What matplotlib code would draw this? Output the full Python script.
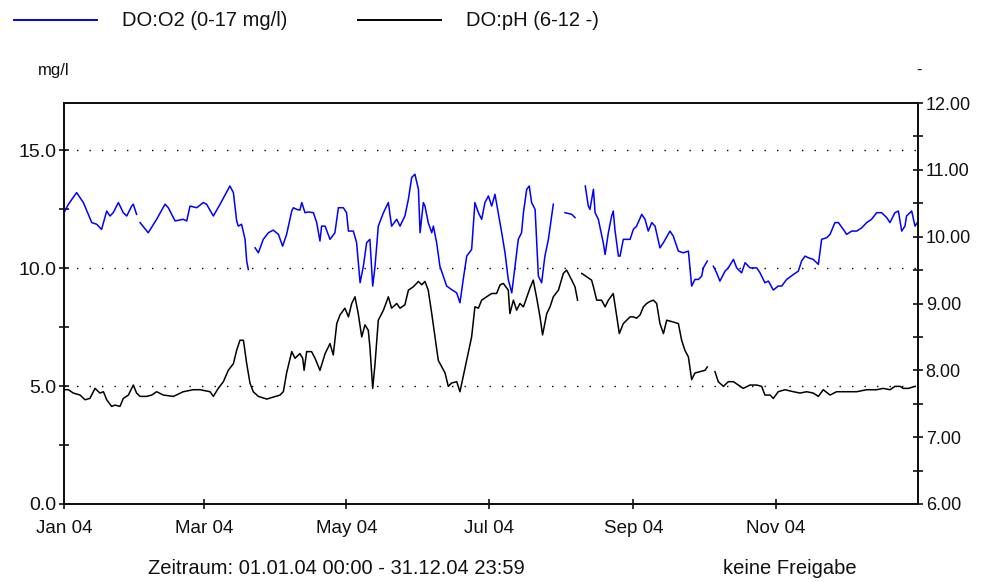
import numpy as np
import matplotlib
matplotlib.use("Agg")
import matplotlib.pyplot as plt
import matplotlib.dates as mdates
from matplotlib.ticker import FixedLocator
from matplotlib.lines import Line2D
import datetime as dt

plt.rcParams['font.family'] = ['Liberation Sans', 'DejaVu Sans']

nan = float('nan')

# ---- data: day offset from 01.01.2004 and measured value ----
o2_day = [0, 1.9, 5.4, 8.3, 11.9, 14.0, 16.1, 18.3, 19.7, 21.1, 23.3, 25.4, 26.9, 29.0, 29.7, 31.1,
          31.8, 32.6, 36.1, 39.7, 43.3, 44.7, 47.6, 51.1, 52.6, 54.0, 56.9, 59.7, 61.1, 64.0, 66.9,
          71.1, 72.6, 74.0, 74.7, 76.1, 77.6, 78.3, 79.0, 80.5, 81.9, 83.3, 85.4, 87.6, 89.7, 91.9,
          93.7, 95.4, 97.6, 98.3, 99.7, 101.1, 101.9, 103.3, 104.7, 106.9, 108.3, 109.7, 110.4,
          111.9, 114.0, 116.1, 117.6, 119.7, 121.1, 121.9, 124.0, 125.4, 126.9, 128.3, 129.7, 131.1,
          132.3, 133.3, 134.7, 136.9, 139.0, 140.4, 142.6, 144.0, 146.1, 147.6, 149.0, 150.4, 151.9,
          152.6, 154.0, 154.7, 156.1, 157.6, 158.3, 159.7, 161.1, 164.0, 166.1, 168.3, 169.7, 171.1,
          172.6, 174.7, 176.1, 177.6, 179.0, 180.4, 181.9, 183.3, 184.7, 186.1, 187.6, 189.0, 190.4,
          191.9, 193.3, 194.7, 196.1, 196.9, 198.3, 199.4, 200.4, 201.9, 203.3, 204.7, 206.1, 207.6,
          209.7, 212.0, 214.7, 217.6, 219.0, 221.0, 223.4, 224.7, 225.4, 226.9, 227.6, 229.0, 231.1,
          231.9, 233.3, 234.7, 235.4, 236.1, 237.6, 238.3, 239.7, 241.1, 242.6, 244.0, 245.4, 247.6,
          249.0, 250.4, 251.9, 253.3, 255.4, 256.9, 259.7, 261.1, 263.3, 265.4, 267.6, 269.0, 270.4,
          271.9, 273.3, 274.0, 275.7, 277.0, 278.3, 279.7, 281.1, 283.3, 284.7, 286.9, 288.3, 290.4,
          291.9, 294.0, 296.9, 298.3, 300.4, 301.9, 304.0, 306.1, 307.6, 309.7, 312.6, 314.7, 316.1,
          317.6, 319.0, 321.1, 323.3, 324.7, 326.9, 328.3, 330.4, 331.9, 334.0, 335.4, 337.6, 339.7,
          341.9, 344.0, 346.1, 348.3, 350.4, 352.6, 354.0, 356.1, 357.6, 359.0, 360.4, 361.1, 363.3,
          364.7, 365.7]
o2_val = [12.35, 12.71, 13.20, 12.78, 11.93, 11.86, 11.64, 12.42, 12.21, 12.35, 12.78, 12.35, 12.21, 12.63, 12.71, 12.28,
          nan, 11.93, 11.50, 12.07, 12.71, 12.56, 12.00, 12.07, 12.00, 12.63, 12.56, 12.78, 12.71, 12.21, 12.71,
          13.48, 13.20, 12.00, 11.78, 11.86, 11.22, 10.30, 9.94, nan, 10.86, 10.65, 11.22, 11.50, 11.61, 11.43,
          10.93, 11.43, 12.42, 12.56, 12.49, 12.46, 12.78, 12.35, 12.38, 12.35, 11.93, 11.15, 11.78,
          11.78, 11.22, 11.50, 12.56, 12.56, 12.35, 11.57, 11.57, 11.08, 9.38, 10.08, 11.08, 11.22,
          9.24, 10.08, 11.78, 12.35, 12.78, 11.78, 12.07, 11.78, 12.21, 12.92, 13.84, 13.98, 13.34,
          11.50, 12.78, 12.63, 11.93, 11.50, 11.78, 11.08, 10.08, 9.24, 9.09, 8.95, 8.53, 9.52,
          10.51, 10.79, 12.78, 12.35, 12.07, 12.78, 13.06, 12.63, 13.13, 12.35, 11.50, 10.65, 9.52,
          8.95, 10.08, 11.22, 11.50, 12.35, 13.34, 13.48, 12.78, 12.49, 9.66, 9.38, 10.51, 11.22,
          12.71, nan, 12.35, 12.28, 12.14, nan, 13.48, 12.63, 12.49, 13.34, 12.35, 12.07, 11.08,
          10.58, 11.50, 12.21, 12.42, 11.64, 10.51, 10.51, 11.22, 11.22, 11.22, 11.64, 11.78, 12.28,
          12.07, 11.57, 11.93, 11.78, 10.86, 11.08, 11.57, 11.36, 10.72, 10.65, 10.72, 9.24, 9.52,
          9.52, 9.66, 10.01, 10.30, nan, 10.08, 9.80, 9.45, 9.87, 10.01, 10.37, 10.01, 9.80,
          10.23, 10.01, 10.01, 9.80, 9.38, 9.45, 9.07, 9.24, 9.24, 9.52, 9.73, 9.87, 10.30,
          10.51, 10.44, 10.37, 10.16, 11.22, 11.29, 11.43, 11.93, 11.93, 11.64, 11.43, 11.57, 11.57,
          11.71, 11.93, 12.07, 12.35, 12.35, 12.14, 11.93, 12.35, 12.42, 11.57, 11.78, 12.21, 12.42,
          11.78, 11.93]

ph_day = [0, 1.9, 4.0, 6.9, 9.0, 11.1, 13.3, 15.4, 16.9, 18.3, 20.4, 21.9, 24.0, 25.4, 27.6, 29.7,
          31.1, 32.6, 35.4, 37.6, 39.7, 42.6, 46.9, 51.1, 55.4, 58.3, 62.6, 64.0, 66.1, 68.3, 70.4,
          72.6, 74.0, 75.4, 76.9, 78.3, 79.7, 81.1, 83.3, 86.9, 89.7, 92.6, 94.0, 95.4, 97.6, 99.0,
          101.1, 102.3, 102.9, 104.0, 106.1, 107.6, 109.7, 111.9, 114.0, 115.4, 116.9, 118.3, 120.4,
          121.9, 123.3, 124.7, 126.1, 127.6, 129.0, 130.4, 131.1, 132.3, 133.3, 134.7, 136.9, 139.0,
          140.4, 142.6, 144.0, 146.1, 147.6, 149.7, 151.9, 153.3, 154.7, 156.1, 157.6, 159.0, 160.4,
          161.9, 163.3, 164.7, 166.1, 168.3, 169.7, 171.1, 172.6, 174.7, 176.1, 177.6, 179.0, 181.1,
          183.3, 185.4, 186.9, 188.3, 190.4, 191.1, 192.6, 194.0, 195.4, 196.9, 199.7, 201.1, 202.6,
          204.0, 205.1, 206.9, 208.3, 209.7, 211.9, 214.0, 215.4, 217.6, 219.0, 220.1, 221.0, 221.9,
          224.0, 226.1, 226.9, 228.3, 230.4, 231.9, 233.3, 235.4, 236.9, 238.0, 239.7, 242.6, 244.0,
          245.4, 246.9, 248.3, 249.7, 251.1, 252.6, 254.0, 255.4, 256.9, 258.3, 260.4, 263.3, 264.7,
          266.1, 267.6, 269.0, 270.4, 272.6, 274.7, 275.7, 277.3, 279.0, 280.4, 282.6, 284.7, 286.9,
          289.0, 291.1, 294.0, 296.9, 299.0, 300.4, 302.6, 304.0, 306.1, 309.0, 312.6, 315.4, 318.3,
          321.1, 323.3, 325.4, 328.3, 331.1, 339.7, 344.0, 348.3, 351.1, 354.0, 356.1, 358.3, 359.7,
          361.9, 364.7]
ph_val = [7.71, 7.71, 7.66, 7.63, 7.56, 7.58, 7.73, 7.66, 7.68, 7.56, 7.46, 7.48, 7.46, 7.58, 7.63, 7.78,
          7.66, 7.61, 7.61, 7.63, 7.68, 7.63, 7.61, 7.68, 7.71, 7.71, 7.68, 7.61, 7.73, 7.83, 8.00,
          8.10, 8.30, 8.45, 8.45, 8.10, 7.81, 7.68, 7.61, 7.57, 7.60, 7.63, 7.68, 7.96, 8.28, 8.18,
          8.25, 8.18, 8.00, 8.28, 8.28, 8.18, 8.00, 8.25, 8.40, 8.23, 8.70, 8.83, 8.93,
          8.80, 9.00, 9.10, 8.85, 8.50, 8.68, 8.60, 8.35, 7.73, 8.10, 8.75, 8.90, 9.10,
          8.93, 9.00, 8.93, 8.98, 9.20, 9.25, 9.33, 9.28, 9.33, 9.20, 8.85, 8.50, 8.15,
          8.05, 7.96, 7.76, 7.81, 7.83, 7.68, 7.91, 8.15, 8.50, 8.95, 8.93, 9.05, 9.10,
          9.15, 9.15, 9.28, 9.30, 9.20, 8.85, 9.05, 8.90, 9.00, 8.95, 9.23, 9.35, 9.08,
          8.80, 8.53, 8.85, 8.95, 9.10, 9.20, 9.45, 9.50, 9.35, 9.25, 9.05, nan, 9.45,
          9.40, 9.35, 9.25, 9.05, 9.05, 8.95, 9.05, 9.15, 8.80, 8.55, 8.70, 8.80, 8.80,
          8.78, 8.83, 8.95, 9.00, 9.03, 9.05, 9.00, 8.70, 8.55, 8.75, 8.73, 8.70, 8.45,
          8.30, 8.20, 7.86, 7.96, 7.98, 8.00, 8.05, nan, 7.98, 7.83, 7.76, 7.83, 7.83,
          7.78, 7.73, 7.78, 7.78, 7.76, 7.63, 7.63, 7.58, 7.68, 7.71, 7.68, 7.66, 7.68,
          7.66, 7.61, 7.71, 7.63, 7.68, 7.68, 7.71, 7.71, 7.73, 7.71, 7.76, 7.76, 7.73,
          7.73, 7.76]

left_ticks = [0, 5, 10, 15]
left_labels = ["0.0", "5.0", "10.0", "15.0"]
right_ticks = [6, 7, 8, 9, 10, 11, 12]
right_labels = ["6.00", "7.00", "8.00", "9.00", "10.00", "11.00", "12.00"]
legend_labels = ["DO:O2 (0-17 mg/l)", "DO:pH (6-12 -)"]
start = dt.datetime(2004, 1, 1)
end = dt.datetime(2004, 12, 31, 23, 59)

# ---- figure ----
W, H = 984, 582
fig = plt.figure(figsize=(W / 100, H / 100), dpi=100)
L, R, T, B = 64, 918, 103, 504
ax = fig.add_axes([L / W, 1 - B / H, (R - L) / W, (B - T) / H])
ax2 = ax.twinx()

x0 = mdates.date2num(start)
o2_x = x0 + np.array(o2_day)
ph_x = x0 + np.array(ph_day)

ax.plot(o2_x, o2_val, color='#0000FF', lw=1.1, zorder=3)
ax2.plot(ph_x, ph_val, color='black', lw=1.1, zorder=3)

ax.set_xlim(mdates.date2num(start), mdates.date2num(end))
ax.set_ylim(0, 17)
ax2.set_ylim(6, 12)

ax.set_yticks(left_ticks)
ax.set_yticklabels(left_labels)
ax.yaxis.set_minor_locator(FixedLocator([2.5, 7.5, 12.5]))
ax2.set_yticks(right_ticks)
ax2.set_yticklabels(right_labels)
ax2.yaxis.set_minor_locator(FixedLocator([6.5, 7.5, 8.5, 9.5, 10.5, 11.5]))

ax.xaxis.set_major_locator(mdates.MonthLocator(bymonth=[1, 3, 5, 7, 9, 11]))
ax.xaxis.set_major_formatter(mdates.DateFormatter('%b %y'))

for a in (ax, ax2):
    for s in a.spines.values():
        s.set_linewidth(1.4)
        s.set_color('#111111')
    a.tick_params(which='both', direction='inout', length=7, width=1.2, color='#111111',
                  labelsize=13, labelcolor='#111111')

ax.tick_params(axis='x', pad=8, labelsize=13.5)
ax.tick_params(axis='y', pad=2, labelsize=14)
ax2.tick_params(axis='y', pad=2)

for v in left_ticks[1:]:
    ax.axhline(v, color='black', lw=1.0, linestyle=(0, (1, 8)), zorder=1)

# legend / unit labels
fy = 1 - 20 / H
fig.add_artist(Line2D([14 / W, 97 / W], [fy, fy], color='#0000FF', lw=1.4))
fig.text(122 / W, fy, legend_labels[0], fontsize=14.5, va='center', ha='left', color='#111111')
fig.add_artist(Line2D([358 / W, 441 / W], [fy, fy], color='black', lw=1.4))
fig.text(466 / W, fy, legend_labels[1], fontsize=14.5, va='center', ha='left', color='#111111')
fig.text(38 / W, 1 - 70 / H, "mg/l", fontsize=12, va='center', ha='left', color='#111111')
fig.text(916 / W, 1 - 70 / H, "-", fontsize=12, va='center', ha='left', color='#111111')

fig.text(336 / W, 1 - 569 / H, "Zeitraum: 01.01.04 00:00 - 31.12.04 23:59", fontsize=14.5,
         va='center', ha='center', color='#111111')
fig.text(790 / W, 1 - 569 / H, "keine Freigabe", fontsize=14.5, va='center', ha='center', color='#111111')

fig.savefig('out.png', dpi=100)
